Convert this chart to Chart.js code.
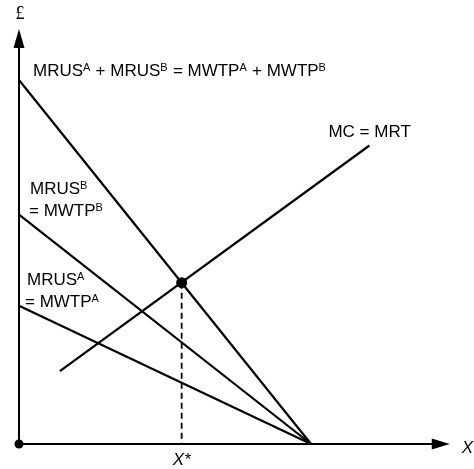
<!DOCTYPE html>
<html>
<head>
<meta charset="utf-8">
<title>Public good: Samuelson condition</title>
<script src="https://cdn.jsdelivr.net/npm/chart.js@4"></script>
<style>
  html, body { margin: 0; padding: 0; background: #fff; }
  #wrap { width: 474px; height: 469px; }
</style>
</head>
<body>
<div id="wrap"><canvas id="chart" width="474" height="469"></canvas></div>
<script>
// quantity of the public good X on the horizontal axis, £ on the vertical
const demandX = [0, 10];
const sumMRUS = [10, 0];
const mrusB = [6.3, 0];
const mrusA = [3.8, 0];
const mcX = [1.4, 12.0];
const mcY = [2.0, 8.2];
const xStar = 5.57;
const priceStar = 4.43;
const xAxisEnd = 14.75;
const yAxisEnd = 11.4;

const FONT = '"Liberation Sans", Arial, Helvetica, sans-serif';

function pts(xs, ys) {
  return xs.map((x, i) => ({ x: x, y: ys[i] }));
}

function lineSet(data, extra) {
  return Object.assign({
    data: data,
    showLine: true,
    borderColor: "#000",
    borderWidth: 2.2,
    pointRadius: 0,
    clip: false,
  }, extra || {});
}

// text with superscripts: parts are [text, isSup]
function richText(ctx, parts, x, y) {
  let cx = x;
  parts.forEach(([t, sup]) => {
    ctx.font = sup ? `11px ${FONT}` : `17px ${FONT}`;
    ctx.fillText(t, cx, sup ? y - 5 : y);
    cx += ctx.measureText(t).width + (sup ? 0.5 : 0);
  });
}

const axesPlugin = {
  id: "axes",
  beforeDatasetsDraw(chart) {
    const { ctx, scales: { x, y } } = chart;
    const x0 = x.getPixelForValue(0);
    const y0 = y.getPixelForValue(0);
    const xEnd = x.getPixelForValue(xAxisEnd);
    const yEnd = y.getPixelForValue(yAxisEnd);
    ctx.save();
    ctx.strokeStyle = "#000";
    ctx.fillStyle = "#000";
    ctx.lineWidth = 2;
    ctx.beginPath();
    ctx.moveTo(x0, y0);
    ctx.lineTo(xEnd - 10, y0);
    ctx.moveTo(x0, y0);
    ctx.lineTo(x0, yEnd + 10);
    ctx.stroke();
    // arrow heads
    ctx.beginPath();
    ctx.moveTo(xEnd, y0);
    ctx.lineTo(xEnd - 18, y0 - 5.5);
    ctx.lineTo(xEnd - 18, y0 + 5.5);
    ctx.closePath();
    ctx.fill();
    ctx.beginPath();
    ctx.moveTo(x0, yEnd);
    ctx.lineTo(x0 - 5.5, yEnd + 19);
    ctx.lineTo(x0 + 5.5, yEnd + 19);
    ctx.closePath();
    ctx.fill();
    ctx.restore();
  },
  afterDatasetsDraw(chart) {
    const { ctx, scales: { x, y } } = chart;
    const px = (v) => x.getPixelForValue(v);
    const py = (v) => y.getPixelForValue(v);
    ctx.save();
    ctx.fillStyle = "#000";
    ctx.textBaseline = "alphabetic";
    ctx.textAlign = "left";

    richText(ctx, [["MRUS"], ["A", 1], [" + MRUS"], ["B", 1], [" = MWTP"], ["A", 1], [" + MWTP"], ["B", 1]],
      px(0) + 14, py(10) - 4);
    richText(ctx, [["MRUS"], ["B", 1]], px(0) + 11, py(6.3) - 21);
    richText(ctx, [["= MWTP"], ["B", 1]], px(0) + 10, py(6.3) + 1);
    richText(ctx, [["MRUS"], ["A", 1]], px(0) + 8, py(3.8) - 21);
    richText(ctx, [["= MWTP"], ["A", 1]], px(0) + 6, py(3.8) + 1);
    richText(ctx, [["MC = MRT"]], px(mcX[1]) - 41, py(mcY[1]) - 8);

    ctx.font = `italic 17px ${FONT}`;
    ctx.textAlign = "center";
    ctx.fillText("X*", px(xStar), py(0) + 21);
    ctx.textAlign = "left";
    ctx.fillText("X", px(xAxisEnd) + 12, py(0) + 9);

    ctx.font = `18px "Liberation Serif", "Times New Roman", serif`;
    ctx.textAlign = "center";
    ctx.fillText("£", px(0) + 1, py(yAxisEnd) - 10);
    ctx.restore();
  },
};

new Chart(document.getElementById("chart"), {
  type: "scatter",
  data: {
    datasets: [
      lineSet(pts(demandX, sumMRUS)),
      lineSet(pts(demandX, mrusB)),
      lineSet(pts(demandX, mrusA)),
      lineSet(pts(mcX, mcY)),
      lineSet(pts([xStar, xStar], [priceStar, 0]), { borderWidth: 1.8, borderDash: [6, 4] }),
      {
        data: pts([0, xStar], [0, priceStar]),
        pointRadius: [4.5, 5.5],
        pointBackgroundColor: "#000",
        pointBorderWidth: 0,
        clip: false,
      },
    ],
  },
  options: {
    responsive: false,
    animation: false,
    events: [],
    layout: { padding: { left: 19, right: 24.25, top: 29, bottom: 25 } },
    plugins: { legend: { display: false }, tooltip: { enabled: false } },
    scales: {
      x: { type: "linear", min: 0, max: xAxisEnd, display: false },
      y: { type: "linear", min: 0, max: yAxisEnd, display: false },
    },
  },
  plugins: [axesPlugin],
});
</script>
</body>
</html>
